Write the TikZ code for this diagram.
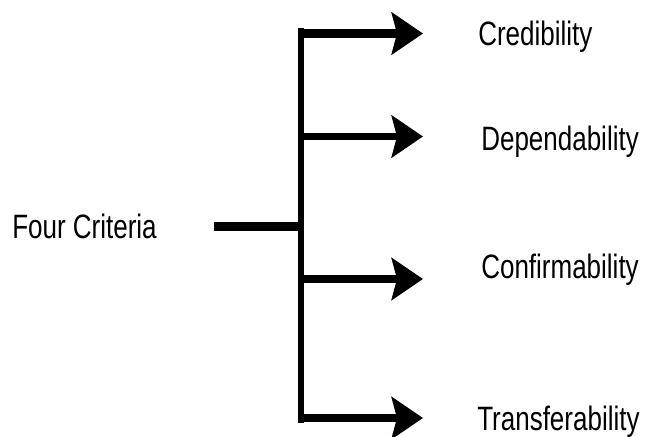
\documentclass[tikz,border=0pt]{standalone}
\usepackage{fontspec}
\setmainfont{Liberation Sans}
\usetikzlibrary{arrows.meta}
\begin{document}
\begin{tikzpicture}[x=0.75pt,y=-0.75pt,
  label/.style={anchor=base west,inner sep=0pt,font=\fontsize{19.5}{23}\selectfont},
  bar/.style={line width=4.5pt,line cap=rect},
  branch/.style={line width=6.5pt,-{Stealth[length=23.5pt,width=31.5pt,inset=4pt]}},
  thinbranch/.style={branch,line width=5pt}]
\useasboundingbox (0,0) rectangle (646,436);

% labels
\node[label] (root) at (12,238) {\scalebox{1}[1.3]{Four Criteria}};
\node[label] (c1) at (478,45)  {\scalebox{1}[1.3]{Credibility}};
\node[label] (c2) at (481,150) {\scalebox{1}[1.3]{Dependability}};
\node[label] (c3) at (481,278) {\scalebox{1}[1.3]{Confirmability}};
\node[label] (c4) at (477,430) {\scalebox{1}[1.3]{Transferability}};

% stem and spine
\coordinate (stem) at (214,226.5);
\coordinate (join) at (301,226.5);
\coordinate (top) at (301,30.5);
\coordinate (bot) at (301,420);
\draw[line width=6.75pt] (stem) -- (join);
\draw[bar] (top) -- (bot);

% branch start and tip points
\coordinate (b1) at (298,33.5);  \coordinate (t1) at (423,33.5);
\coordinate (b2) at (298,136.5); \coordinate (t2) at (423,136.5);
\coordinate (b3) at (298,279);   \coordinate (t3) at (423,279);
\coordinate (b4) at (298,418);   \coordinate (t4) at (423,418);

\draw[branch] (b1) -- (t1);
\draw[thinbranch] (b2) -- (t2);
\draw[branch] (b3) -- (t3);
\draw[branch] (b4) -- (t4);
\end{tikzpicture}
\end{document}
